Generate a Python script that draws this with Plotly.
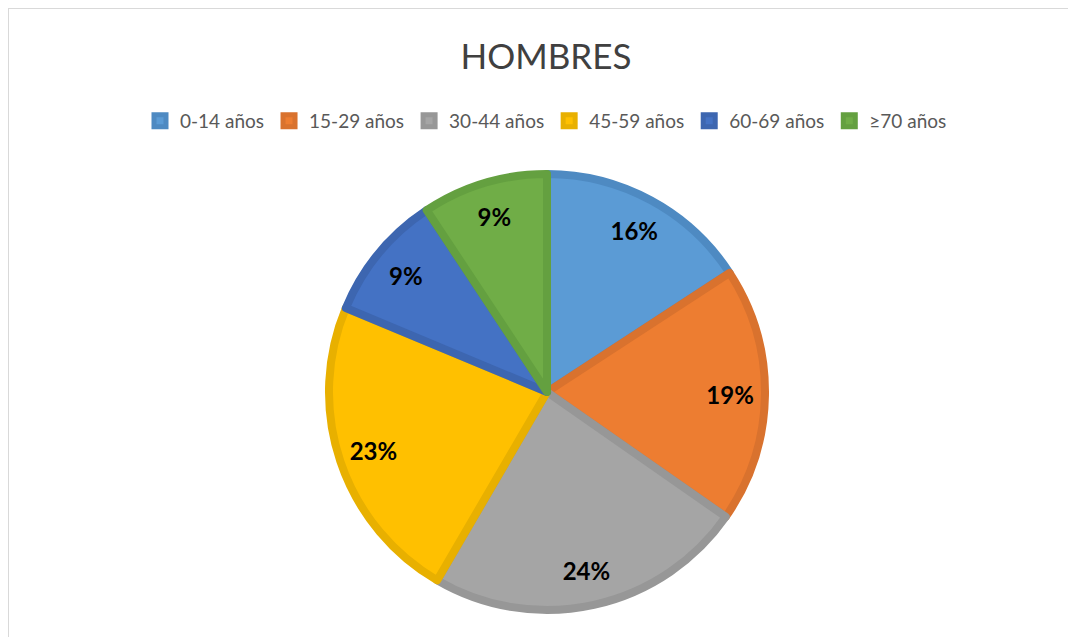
import plotly.graph_objects as go

categories = ["0-14 años", "15-29 años", "30-44 años", "45-59 años", "60-69 años", "≥70 años"]
values = [15.8, 18.9, 23.7, 22.9, 9.4, 9.3]
fill_colors = ["#5B9BD5", "#ED7D31", "#A5A5A5", "#FFC000", "#4472C4", "#70AD47"]
edge_colors = ["#4E8AC2", "#D9722E", "#979797", "#E8B000", "#3D66B0", "#64A040"]

W, H = 1076, 637
# page offset of the figure (body margin) is 8px
cx, cy, r = 539, 384, 218
dom_x = [(cx - r) / W, (cx + r) / W]
dom_y = [1 - (cy + r) / H, 1 - (cy - r) / H]

fig = go.Figure()
fig.add_trace(go.Pie(
    labels=categories, values=values, sort=False, direction="clockwise", rotation=0,
    marker=dict(colors=fill_colors, line=dict(color=edge_colors, width=8)),
    textinfo="none", hoverinfo="label+percent", domain=dict(x=dom_x, y=dom_y),
    showlegend=True,
))
fig.add_trace(go.Pie(
    labels=categories, values=values, sort=False, direction="clockwise", rotation=0,
    hole=0.68,
    marker=dict(colors=["rgba(0,0,0,0)"] * 6, line=dict(width=0)),
    textinfo="percent", texttemplate="%{percent:.0%}", textposition="inside",
    insidetextorientation="horizontal",
    textfont=dict(family="Lato", size=24, color="#000000", weight="bold"),
    hoverinfo="skip", domain=dict(x=dom_x, y=dom_y), showlegend=False,
))

fig.update_layout(
    width=W, height=H,
    margin=dict(l=0, r=0, t=0, b=0),
    paper_bgcolor="white",
    title=dict(text="HOMBRES", x=0.5, xanchor="center", y=1 - 49 / H, yanchor="middle",
               font=dict(family="Lato", size=35, color="#404040")),
    legend=dict(orientation="h", x=0.5, xanchor="center", y=1 - 113 / H, yanchor="middle",
                font=dict(family="Lato", size=19, color="#595959"), traceorder="normal"),
    shapes=[
        dict(type="line", xref="paper", yref="paper", x0=0, x1=1, y0=1 - 0.5 / H, y1=1 - 0.5 / H,
             line=dict(color="#D9D9D9", width=1)),
        dict(type="line", xref="paper", yref="paper", x0=0.5 / W, x1=0.5 / W, y0=0, y1=1,
             line=dict(color="#D9D9D9", width=1)),
    ],
)

fig.write_html("out.html")
